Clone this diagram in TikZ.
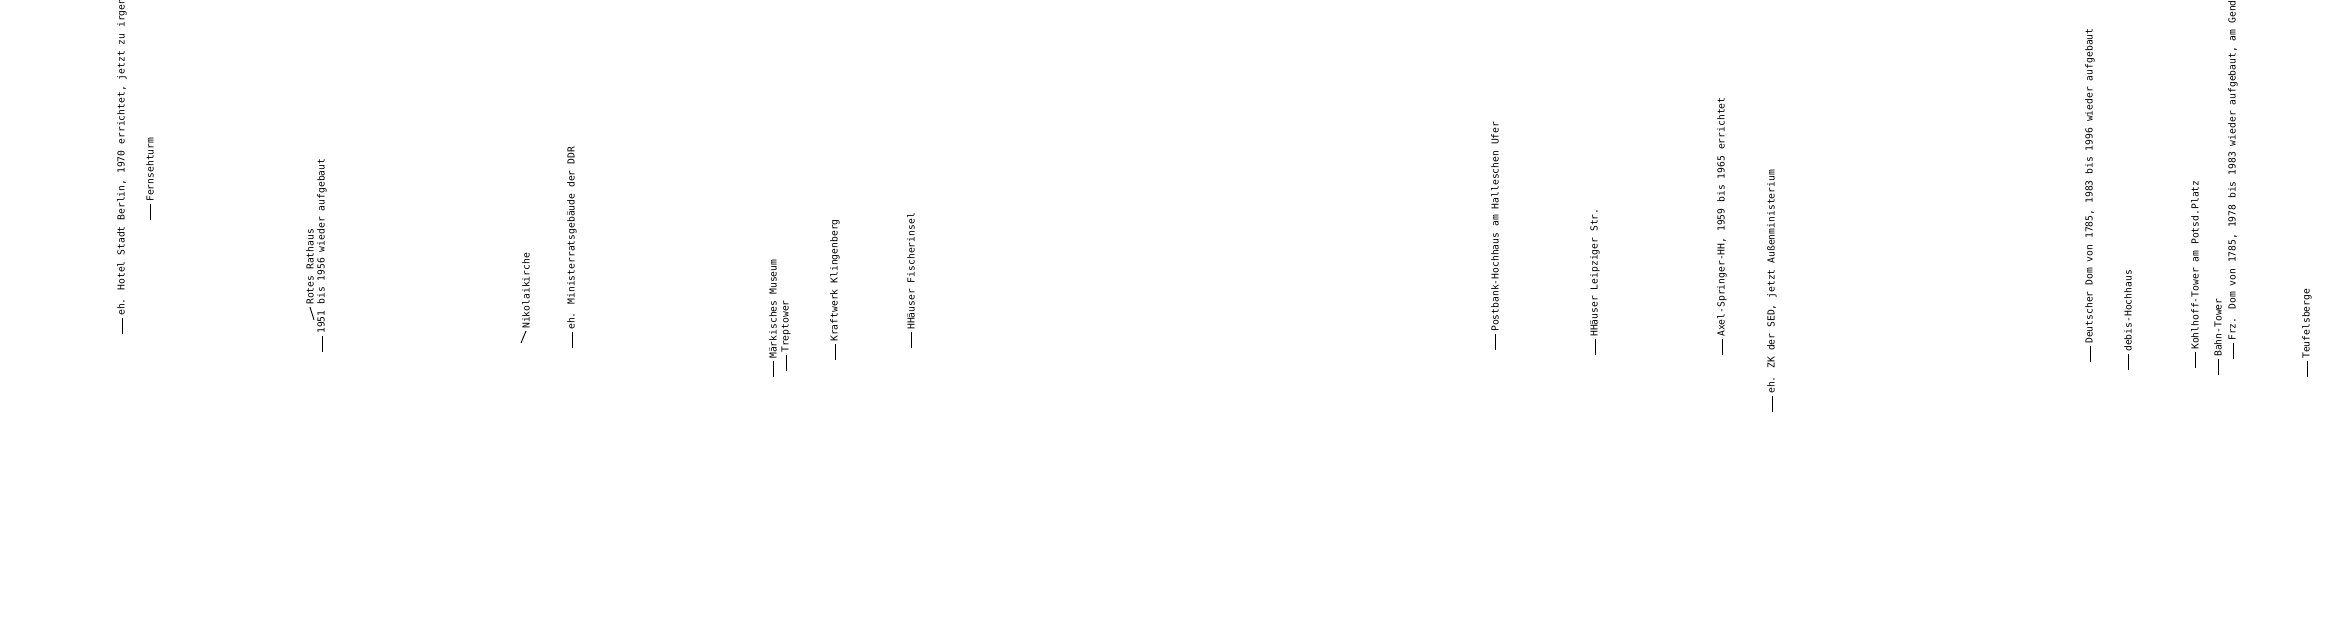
\documentclass[tikz,border=0pt]{standalone}
\usepackage{fontspec}
\newfontfamily\skyfont{DejaVu Sans Mono}
\usetikzlibrary{calc}

\begin{document}
\begin{tikzpicture}[x=1pt,y=-1pt,
  lbl/.style={rotate=90,anchor=west,inner sep=0pt,font=\skyfont\fontsize{9.7}{10}\selectfont},
  lead/.style={line width=0.9pt}]
  \useasboundingbox (0,0) rectangle (2337,620);
  \clip (0,0) rectangle (2337,620);

  % straight leaders: x / lower end / name / text
  \foreach \x/\y/\n/\t in {
      122/334/hotel/{eh. Hotel Stadt Berlin, 1970 errichtet, jetzt zu irgend},
      150/220/fern/{Fernsehturm},
      322/352/aufbau/{1951 bis 1956 wieder aufgebaut},
      572/348/minister/{eh. Ministerratsgebäude der DDR},
      773/377/museum/{Märkisches Museum},
      786/371/trept/{Treptower},
      835/360/kraft/{Kraftwerk Klingenberg},
      911/348/fischer/{HHäuser Fischerinsel},
      1495/350/postbank/{Postbank-Hochhaus am Halleschen Ufer},
      1595/355/leipzig/{HHäuser Leipziger Str.},
      1722/355/springer/{Axel-Springer-HH, 1959 bis 1965 errichtet},
      1772/412/zk/{eh. ZK der SED, jetzt Außenministerium},
      2090/362/ddom/{Deutscher Dom von 1785, 1983 bis 1996 wieder aufgebaut},
      2128/370/debis/{debis-Hochhaus},
      2195/368/kohl/{Kohlhoff-Tower am Potsd.Platz},
      2218/375/bahn/{Bahn-Tower},
      2233/359/frz/{Frz. Dom von 1785, 1978 bis 1983 wieder aufgebaut, am Gend},
      2307/377/teufel/{Teufelsberge}}{
    \coordinate (\n-foot) at (\x,\y);
    \node[lbl] (\n) at (\x,\y-18) {\t};
    \draw[lead] (\n-foot) -- ($(\n.west)+(0,2)$);
  }

  % the two slanted ones
  \coordinate (rathaus-foot) at (314,320);
  \node[lbl] (rathaus) at (310,305) {Rotes Rathaus};
  \draw[lead] (rathaus-foot) -- ($(rathaus.west)+(0,2)$);

  \coordinate (nikolai-foot) at (521,343);
  \node[lbl] (nikolai) at (526,329) {Nikolaikirche};
  \draw[lead] (nikolai-foot) -- ($(nikolai.west)+(0,2)$);
\end{tikzpicture}
\end{document}
